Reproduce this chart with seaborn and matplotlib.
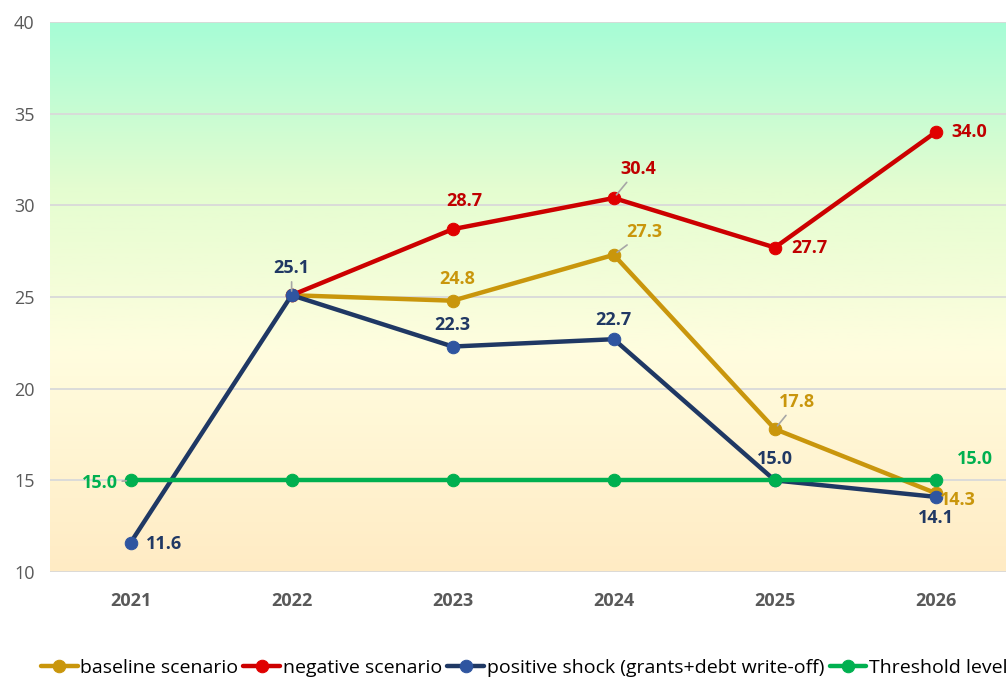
import numpy as np
import pandas as pd
import matplotlib
matplotlib.use("Agg")
import matplotlib.pyplot as plt
from matplotlib.colors import LinearSegmentedColormap
import seaborn as sns

# data
years = ["2021", "2022", "2023", "2024", "2025", "2026"]
baseline = [np.nan, 25.1, 24.8, 27.3, 17.8, 14.3]
negative = [np.nan, 25.1, 28.7, 30.4, 27.7, 34.0]
positive = [11.6, 25.1, 22.3, 22.7, 15.0, 14.1]
threshold = [15.0, 15.0, 15.0, 15.0, 15.0, 15.0]
series_names = ["baseline scenario", "negative scenario",
                "positive shock (grants+debt write-off)", "Threshold level"]

sns.set_style("white")
plt.rcParams["font.family"] = ["Open Sans", "DejaVu Sans"]

fig = plt.figure(figsize=(10.06, 6.77), dpi=100)
ax = fig.add_axes([0.0497, 0.155, 0.9607, 0.8125])

# gradient background
grad = LinearSegmentedColormap.from_list(
    "bg", [(0.0, "#ffebc4"), (0.4, "#fffddf"), (0.7, "#e4fdd0"), (1.0, "#a6fcd6")])
ax.imshow(np.linspace(0, 1, 256).reshape(-1, 1), cmap=grad, aspect="auto",
          extent=(-0.5, 5.5, 10, 40), origin="lower", zorder=0)

df = pd.DataFrame({"x": range(len(years)), "baseline": baseline,
                   "negative": negative, "positive": positive,
                   "threshold": threshold})

styles = [
    ("baseline", "#c9960c", "#c9960c"),
    ("negative", "#cc0000", "#e00000"),
    ("positive", "#1f3864", "#2f55a0"),
    ("threshold", "#00b050", "#00b050"),
]
zord = {"baseline": 3, "negative": 3, "positive": 4, "threshold": 5}
for (col, lc, mc), name in zip(styles, series_names):
    sns.lineplot(data=df, x="x", y=col, ax=ax, color=lc, linewidth=3.2,
                 marker="o", markersize=9, markerfacecolor=mc,
                 markeredgecolor=mc, label=name, zorder=zord[col],
                 legend=False)

# data labels: (series, index, dx, dy px, leader)
colors = {"baseline": "#c9960c", "negative": "#c00000",
          "positive": "#203864", "threshold": "#00b050"}
labels = [
    ("baseline", 2, 5, 22, False), ("baseline", 3, 31, 23, True),
    ("baseline", 4, 22, 27, True), ("baseline", 5, 22, -7, False),
    ("negative", 2, 12, 28, False), ("negative", 3, 24, 29, True),
    ("negative", 4, 35, 0, False), ("negative", 5, 33, 0, False),
    ("positive", 0, 34, -1, False), ("positive", 1, 0, 27, True),
    ("positive", 2, 0, 22, False), ("positive", 3, 0, 19, False),
    ("positive", 4, 0, 21, False), ("positive", 5, 0, -21, False),
    ("threshold", 0, -31, -3, True), ("threshold", 5, 39, 21, False),
]
for col, i, dx, dy, leader in labels:
    v = df[col][i]
    ap = dict(arrowstyle="-", color="#a6a6a6", lw=1.2,
              shrinkA=1, shrinkB=3) if leader else None
    ax.annotate(f"{v:.1f}", xy=(i, v), xytext=(dx, dy),
                textcoords="offset pixels", ha="center", va="center",
                fontsize=13, fontweight="bold", color=colors[col],
                arrowprops=ap, zorder=6)

ax.set_xlim(-0.5, 5.5)
ax.set_ylim(10, 40)
ax.set_yticks(range(10, 41, 5))
ax.set_xticks(range(len(years)))
ax.set_xticklabels(years, fontweight="bold")
ax.tick_params(axis="both", colors="#595959", labelsize=13, length=0)
ax.tick_params(axis="x", pad=14)
ax.tick_params(axis="y", pad=11)
ax.grid(axis="y", color="#d9d9d9", linewidth=1.3, zorder=1)
ax.set_axisbelow(False)
for sp in ax.spines.values():
    sp.set_visible(False)
ax.set_xlabel("")
ax.set_ylabel("")

handles, lbls = ax.get_legend_handles_labels()
fig.legend(handles, lbls, loc="lower left", bbox_to_anchor=(0.023, -0.026),
           ncol=4, frameon=False, fontsize=14, handlelength=1.9,
           handletextpad=0.15, columnspacing=0.25, labelcolor="#000000")

fig.savefig("out.png", dpi=100)
